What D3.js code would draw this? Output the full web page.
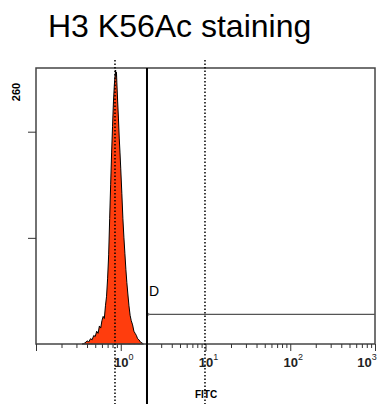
<!DOCTYPE html>
<html>
<head>
<meta charset="utf-8">
<script src="https://cdn.jsdelivr.net/npm/d3@7"></script>
<style>
  body { margin: 0; background: #fff; }
  svg { display: block; font-family: "Liberation Sans", Arial, sans-serif; }
</style>
</head>
<body>
<div id="chart"></div>
<script>
// Data
const fitcValues = [0.35, 0.38, 0.40, 0.42, 0.44, 0.46, 0.48, 0.50, 0.52, 0.54, 0.56, 0.58,
  0.60, 0.62, 0.64, 0.66, 0.68, 0.70, 0.72, 0.74, 0.76, 0.78, 0.80, 0.82, 0.84, 0.86,
  0.87, 0.88, 0.89, 0.90, 0.92, 0.94, 0.96, 0.98, 1.00, 1.03, 1.06, 1.09, 1.12, 1.15,
  1.18, 1.21, 1.25, 1.29, 1.33, 1.38, 1.43, 1.48, 1.53, 1.58, 1.64, 1.70, 1.78, 1.85];
const counts = [0, 1, 3, 2, 5, 4, 8, 7, 12, 10, 17, 15,
  22, 26, 24, 36, 45, 62, 84, 118, 150, 180, 205, 228, 244, 254,
  258, 252, 256, 246, 228, 212, 194, 180, 165, 142, 118, 100, 85, 70,
  58, 48, 36, 27, 22, 18, 12, 10, 8, 5, 4, 2, 1, 0];
const majorTicks = [0.1, 1, 10, 100, 1000];
const labelTicks = [1, 10, 100, 1000];
const labelExponents = ["0", "1", "2", "3"];
const yTicks = [100, 200];
const yMaxLabel = "260";
const dottedMarkers = [0.855, 9.86];
const gateLeft = 2.04;
const gateLevel = 28;
const gateName = "D";

const width = 377, height = 404;
const m = { top: 68, right: 2, bottom: 60, left: 36 };
const ctrW = width - m.left - m.right;
const ctrH = height - m.top - m.bottom;

const svg = d3.select("#chart").append("svg")
  .attr("width", width).attr("height", height);

// Title
svg.append("text")
  .attr("x", 48).attr("y", 37)
  .attr("font-size", 32)
  .text("H3 K56Ac staining");

const ctr = svg.append("g").attr("transform", `translate(${m.left},${m.top})`);

// Scales
const x = d3.scaleLog().domain([0.1, 1000]).range([0, ctrW]);
const y = d3.scaleLinear().domain([0, 260]).range([ctrH, 0]);

// Histogram
const pts = fitcValues.map((v, i) => ({ v, c: counts[i] }));
const area = d3.area()
  .x(d => x(d.v)).y0(y(0)).y1(d => y(d.c));
ctr.append("path").datum(pts)
  .attr("d", area)
  .attr("fill", "#ff3d0d")
  .attr("stroke", "#000")
  .attr("stroke-width", 1);

// Frame
ctr.append("rect")
  .attr("width", ctrW).attr("height", ctrH)
  .attr("fill", "none").attr("stroke", "#444").attr("stroke-width", 1.5);

// X axis ticks
const minor = [];
majorTicks.slice(0, -1).forEach(t => { for (let k = 2; k <= 9; k++) minor.push(t * k); });
ctr.append("g")
  .attr("transform", `translate(0,${ctrH})`)
  .call(d3.axisBottom(x).tickValues(minor).tickSize(4).tickFormat(""))
  .call(g => g.select(".domain").remove())
  .call(g => g.selectAll("line").attr("stroke", "#333"));
ctr.append("g")
  .attr("transform", `translate(0,${ctrH})`)
  .call(d3.axisBottom(x).tickValues(majorTicks).tickSize(7).tickFormat(""))
  .call(g => g.select(".domain").remove())
  .call(g => g.selectAll("line").attr("stroke", "#333"));

// X labels with superscript exponents
labelTicks.forEach((t, i) => {
  const cx = i === labelTicks.length - 1 ? x(t) - 11 : x(t);
  const txt = ctr.append("text")
    .attr("x", cx + 3).attr("y", ctrH + 23)
    .attr("text-anchor", "middle")
    .attr("font-size", 13).attr("font-weight", "bold").attr("fill", "#222");
  txt.append("tspan").text("10");
  txt.append("tspan").attr("dy", -7).attr("font-size", 9)
    .attr("font-weight", "normal").text(labelExponents[i]);
});

svg.append("text")
  .attr("x", 206).attr("y", 398)
  .attr("text-anchor", "middle")
  .attr("font-size", 10).attr("font-weight", "bold")
  .text("FITC");

// Y axis
ctr.append("g")
  .call(d3.axisLeft(y).tickValues(yTicks).tickSize(8).tickFormat(""))
  .call(g => g.select(".domain").remove())
  .call(g => g.selectAll("line").attr("stroke", "#333"));
svg.append("text")
  .attr("transform", "translate(20,92) rotate(-90)")
  .attr("text-anchor", "middle")
  .attr("font-size", 11).attr("font-weight", "bold")
  .text(yMaxLabel);

// Gate
ctr.append("line")
  .attr("x1", x(gateLeft)).attr("x2", ctrW)
  .attr("y1", y(gateLevel)).attr("y2", y(gateLevel))
  .attr("stroke", "#555").attr("stroke-width", 1.3);
ctr.append("circle")
  .attr("cx", x(gateLeft) + 1).attr("cy", y(gateLevel)).attr("r", 1.5).attr("fill", "#777");
ctr.append("text")
  .attr("x", x(gateLeft) + 2).attr("y", y(gateLevel) - 18)
  .attr("font-size", 14)
  .text(gateName);

// Marker lines
ctr.append("line")
  .attr("x1", x(gateLeft)).attr("x2", x(gateLeft))
  .attr("y1", 0).attr("y2", height - m.top)
  .attr("stroke", "#000").attr("stroke-width", 2);
dottedMarkers.forEach(v => {
  ctr.append("line")
    .attr("x1", x(v)).attr("x2", x(v))
    .attr("y1", -8).attr("y2", height - m.top)
    .attr("stroke", "#000").attr("stroke-width", 1.5)
    .attr("stroke-dasharray", "1.5,2");
});
</script>
</body>
</html>
